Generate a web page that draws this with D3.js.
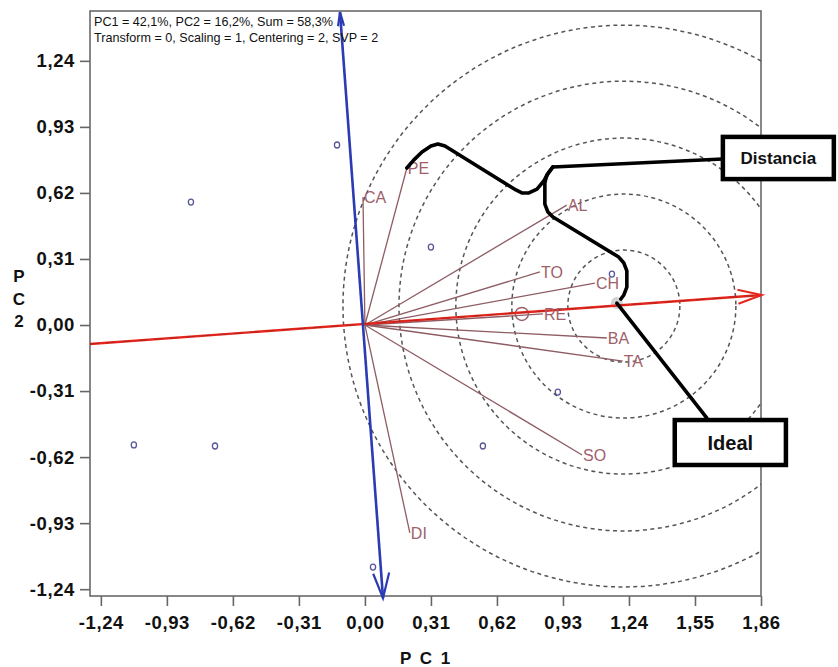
<!DOCTYPE html>
<html>
<head>
<meta charset="utf-8">
<script src="https://cdn.jsdelivr.net/npm/d3@7"></script>
<style>
  body { margin: 0; background: #fff; }
  text { font-family: "Liberation Sans", Arial, sans-serif; }
</style>
</head>
<body>
<div id="chart"></div>
<script>
// datos
const xTicks = [-1.24, -0.93, -0.62, -0.31, 0, 0.31, 0.62, 0.93, 1.24, 1.55, 1.86]
const yTicks = [-1.24, -0.93, -0.62, -0.31, 0, 0.31, 0.62, 0.93, 1.24]

const attrNames = ['CA', 'PE', 'AL', 'TO', 'CH', 'RE', 'BA', 'TA', 'SO', 'DI']
const attrPC1 = [-0.009, 0.197, 0.948, 0.822, 1.080, 0.836, 1.136, 1.211, 1.020, 0.211]
const attrPC2 = [0.601, 0.737, 0.563, 0.249, 0.197, 0.052, -0.061, -0.169, -0.610, -0.976]

const samplePC1 = [-0.131, -0.817, 0.310, 1.160, 0.906, -1.085, -0.704, 0.554, 0.038]
const samplePC2 = [0.845, 0.577, 0.366, 0.239, -0.315, -0.563, -0.568, -0.568, -1.136]

const bigO = [0.737, 0.052]
const idealPoint = [1.183, 0.103]
const circleCenter = [1.216, 0.089]
const circleRadii = [0.263, 0.526, 0.789, 1.056, 1.319]

const redAxis = [[-1.291, -0.089], [1.864, 0.141]]
const blueAxis = [[-0.117, 1.469], [0.085, -1.282]]

const headerLines = ['PC1 = 42,1%, PC2 = 16,2%, Sum = 58,3%', 'Transform = 0, Scaling = 1, Centering = 2, SVP = 2']

// anotaciones (llave "Distancia" y llamada "Ideal"), en unidades de PC
const braceA = [[0.197, 0.737], [0.230, 0.775], [0.268, 0.812], [0.310, 0.840], [0.343, 0.850], [0.376, 0.840],
    [0.709, 0.634], [0.737, 0.620], [0.770, 0.620], [0.808, 0.638], [0.840, 0.676], [0.864, 0.718], [0.883, 0.742]]
const braceB = [[0.883, 0.742], [0.854, 0.704], [0.845, 0.667], [0.845, 0.568], [0.859, 0.531], [0.883, 0.507],
    [1.192, 0.319], [1.216, 0.291], [1.230, 0.254], [1.230, 0.178], [1.216, 0.141], [1.202, 0.122]]
const distLine = [[0.883, 0.742], [1.681, 0.779]]
const distBox = { x0: 1.681, x1: 2.202, y0: 0.883, y1: 0.685, text: 'Distancia' }
const idealLine = [[1.183, 0.103], [1.606, -0.437]]
const idealBox = { x0: 1.455, x1: 1.977, y0: -0.446, y1: -0.657, text: 'Ideal' }

const width = 838
const height = 667

const svg = d3.select('#chart').append('svg').attr('width', width).attr('height', height)

const x = d3.scaleLinear().domain([-1.291, 1.86]).range([90, 761])
const y = d3.scaleLinear().domain([-1.272, 1.474]).range([596, 11])

const fmt = d => d3.format('.2f')(d).replace('.', ',').replace('−', '-')

svg.append('defs').append('clipPath').attr('id', 'plotClip')
    .append('rect')
    .attr('x', x.range()[0]).attr('y', y.range()[1])
    .attr('width', x.range()[1] - x.range()[0]).attr('height', y.range()[0] - y.range()[1])

// ejes
const xAxisGroup = svg.append('g').attr('transform', `translate(0, ${y.range()[0]})`)
    .call(d3.axisBottom(x).tickValues(xTicks).tickFormat(fmt).tickSize(10).tickSizeOuter(0).tickPadding(10))
const yAxisGroup = svg.append('g').attr('transform', `translate(${x.range()[0]}, 0)`)
    .call(d3.axisLeft(y).tickValues(yTicks).tickFormat(fmt).tickSize(10).tickSizeOuter(0).tickPadding(5))
svg.selectAll('.domain').remove()
svg.selectAll('.tick line').attr('stroke', '#666').attr('stroke-width', 1.6)
svg.selectAll('.tick text').attr('font-size', 18.5).attr('font-weight', 'bold').attr('fill', '#111')
    .attr('letter-spacing', 0.6)
    .style('font-family', '"Liberation Sans", Arial, sans-serif')

svg.append('rect')
    .attr('x', x.range()[0]).attr('y', y.range()[1])
    .attr('width', x.range()[1] - x.range()[0]).attr('height', y.range()[0] - y.range()[1])
    .attr('fill', 'none').attr('stroke', '#6a6a6a').attr('stroke-width', 1.6)

// titulos
svg.append('text').attr('x', 426).attr('y', 664).attr('text-anchor', 'middle')
    .attr('font-size', 17).attr('font-weight', 'bold').attr('letter-spacing', 2).attr('fill', '#111')
    .text('P C 1')
svg.selectAll('.pc2').data(['P', 'C', '2']).enter().append('text')
    .attr('x', 19).attr('y', (d, i) => 282 + i * 22.5).attr('text-anchor', 'middle')
    .attr('font-size', 17).attr('font-weight', 'bold').attr('fill', '#111')
    .text(d => d)

const elementGroup = svg.append('g')
const clipped = elementGroup.append('g').attr('clip-path', 'url(#plotClip)')

// circulos de distancia
clipped.selectAll('circle.dist').data(circleRadii).enter().append('circle')
    .attr('cx', x(circleCenter[0])).attr('cy', y(circleCenter[1]))
    .attr('r', d => x(d) - x(0))
    .attr('fill', 'none').attr('stroke', '#555').attr('stroke-width', 1.5).attr('stroke-dasharray', '4,3.5')

// vectores de atributos
attrNames.forEach((name, i) => {
    elementGroup.append('line')
        .attr('x1', x(0)).attr('y1', y(0))
        .attr('x2', x(attrPC1[i])).attr('y2', y(attrPC2[i]))
        .attr('stroke', '#8e5c63').attr('stroke-width', 1.3)
})

// muestras
samplePC1.forEach((v, i) => {
    elementGroup.append('ellipse')
        .attr('cx', x(v)).attr('cy', y(samplePC2[i]))
        .attr('rx', 2.6).attr('ry', 3)
        .attr('fill', 'none').attr('stroke', '#56569a').attr('stroke-width', 1.3)
})

elementGroup.append('circle').attr('cx', x(bigO[0])).attr('cy', y(bigO[1])).attr('r', 6.5)
    .attr('fill', 'none').attr('stroke', '#9a6068').attr('stroke-width', 1.4)

elementGroup.append('circle').attr('cx', x(idealPoint[0])).attr('cy', y(idealPoint[1])).attr('r', 6)
    .attr('fill', '#d2d2d2')

// punta de flecha abierta
const arrowHead = (p0, p1, len, half) => {
    const x0 = x(p0[0]), y0 = y(p0[1]), x1 = x(p1[0]), y1 = y(p1[1])
    const L = Math.hypot(x1 - x0, y1 - y0)
    const ux = (x1 - x0) / L, uy = (y1 - y0) / L
    const bx = x1 - ux * len, by = y1 - uy * len
    return `M${bx - uy * half},${by + ux * half}L${x1},${y1}L${bx + uy * half},${by - ux * half}`
}

const line = d3.line().x(d => x(d[0])).y(d => y(d[1]))

// eje rojo
elementGroup.append('path').attr('d', line(redAxis))
    .attr('stroke', '#e5261c').attr('stroke-width', 2.4).attr('fill', 'none')
elementGroup.append('path').attr('d', line(redAxis))
    .attr('stroke', '#6e1c1c').attr('stroke-width', 0.9).attr('stroke-dasharray', '9,7')
    .attr('fill', 'none').attr('opacity', 0.45)
elementGroup.append('path').attr('d', arrowHead(redAxis[0], redAxis[1], 24, 7))
    .attr('stroke', '#e5261c').attr('stroke-width', 2).attr('fill', 'none')

// eje azul
elementGroup.append('path').attr('d', line(blueAxis))
    .attr('stroke', '#2b3bb2').attr('stroke-width', 2.6).attr('fill', 'none')
elementGroup.append('path').attr('d', arrowHead(blueAxis[0], blueAxis[1], 25, 8))
    .attr('stroke', '#2b3bb2').attr('stroke-width', 2.2).attr('fill', 'none')
elementGroup.append('path').attr('d', arrowHead(blueAxis[1], blueAxis[0], 14, 3))
    .attr('stroke', '#2b3bb2').attr('stroke-width', 2.2).attr('fill', 'none')

// etiquetas de atributos
attrNames.forEach((name, i) => {
    elementGroup.append('text')
        .attr('x', x(attrPC1[i]) + 1).attr('y', y(attrPC2[i]))
        .attr('dy', '0.36em')
        .attr('font-size', 16).attr('fill', '#a0606a')
        .text(name)
})

// cabecera
svg.selectAll('.header').data(headerLines).enter().append('text')
    .attr('x', 94).attr('y', (d, i) => 26 + i * 16)
    .attr('font-size', 12.6).attr('fill', '#111')
    .text(d => d)

// anotaciones
const annot = svg.append('g')
;[braceA, braceB, distLine, idealLine].forEach(pts => {
    annot.append('path').attr('d', line(pts))
        .attr('fill', 'none').attr('stroke', '#000').attr('stroke-width', 3.6)
        .attr('stroke-linejoin', 'round').attr('stroke-linecap', 'round')
})
;[[distBox, 17], [idealBox, 20]].forEach(([b, fs]) => {
    annot.append('rect')
        .attr('x', x(b.x0)).attr('y', y(b.y0))
        .attr('width', x(b.x1) - x(b.x0)).attr('height', y(b.y1) - y(b.y0))
        .attr('fill', '#fff').attr('stroke', '#000').attr('stroke-width', 4.5)
    annot.append('text')
        .attr('x', (x(b.x0) + x(b.x1)) / 2).attr('y', (y(b.y0) + y(b.y1)) / 2)
        .attr('dy', '0.36em').attr('text-anchor', 'middle')
        .attr('font-size', fs).attr('font-weight', 'bold').attr('fill', '#111')
        .text(b.text)
})
</script>
</body>
</html>
